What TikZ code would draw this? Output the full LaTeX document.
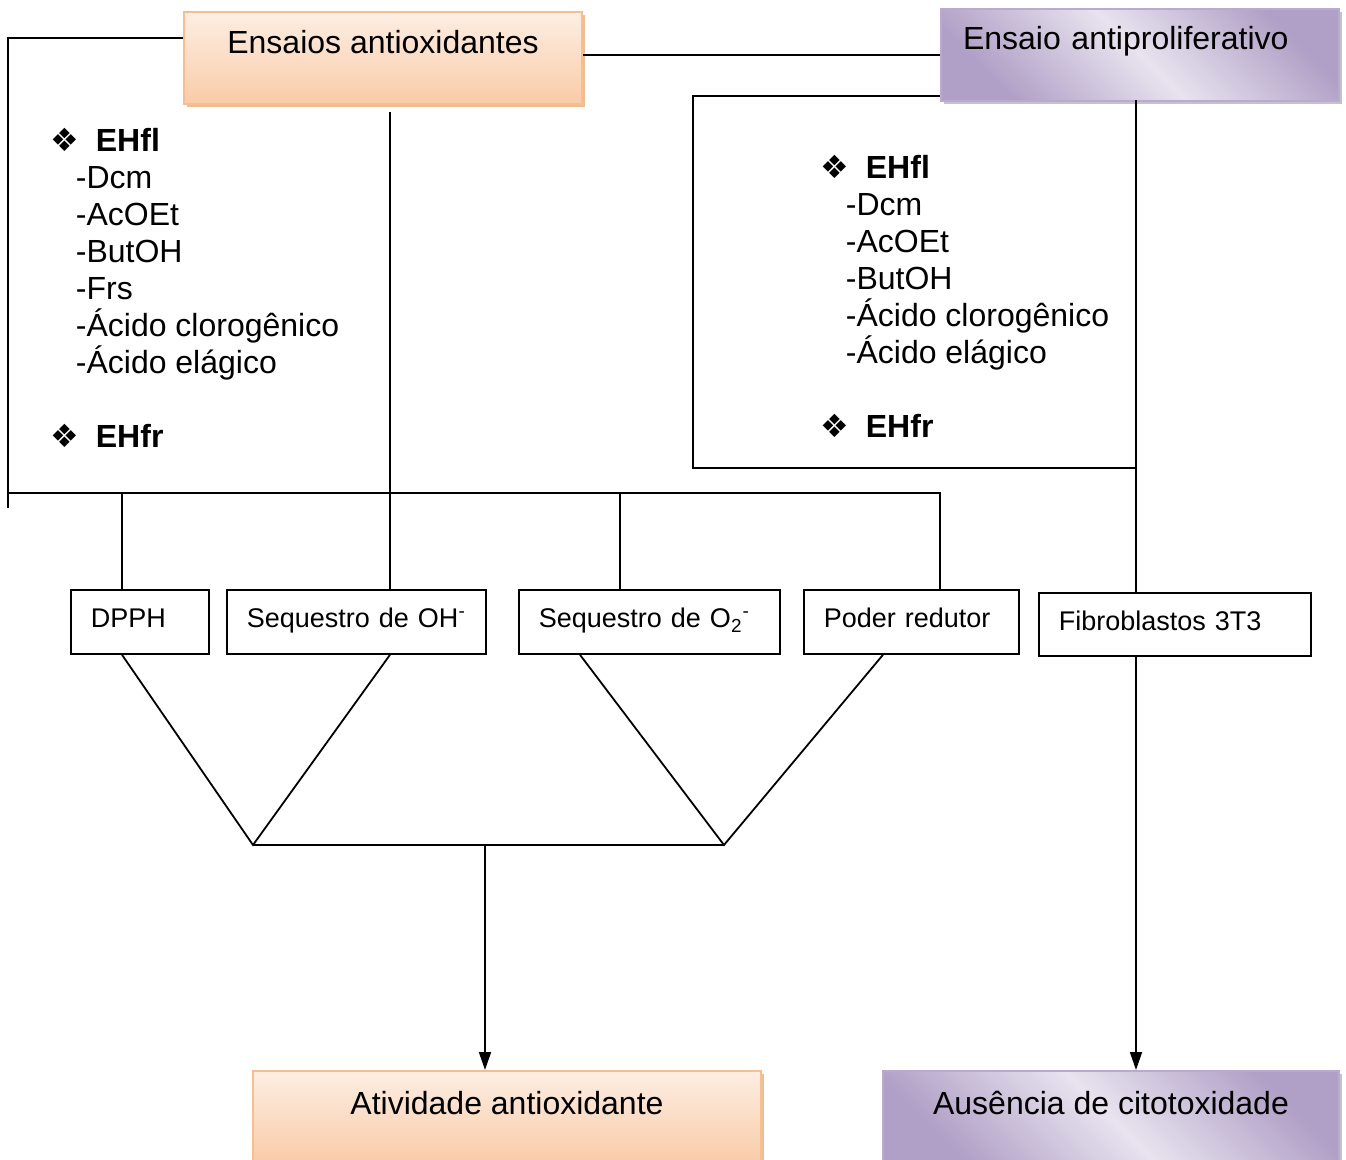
\documentclass[tikz,border=0pt]{standalone}
\usepackage{fontspec}
\setmainfont{Liberation Sans}
\newfontfamily\dejavu{DejaVu Sans}
\usetikzlibrary{arrows.meta,shadows}
\definecolor{peachline}{HTML}{F7BE92}
\definecolor{peachtop}{HTML}{FDEEE3}
\definecolor{peachbot}{HTML}{F9CBA8}
\definecolor{lilacline}{HTML}{B9AACF}
\definecolor{lilacdark}{HTML}{B09FC6}
\definecolor{lilaclight}{HTML}{E8E3EF}
\newcommand{\losango}{\smash{\dejavu\fontsize{16}{16}\selectfont ❖}}
\begin{document}
\begin{tikzpicture}[x=0.5pt, y=-0.5pt, line width=0.9pt,
  laranja/.style = {draw=peachline, line width=1pt, top color=peachtop, bottom color=peachbot, anchor=north west, font=\fontsize{16}{19}\selectfont, drop shadow={shadow xshift=1.5pt, shadow yshift=-1.5pt, fill=brown!60!orange, opacity=.5}},
  lilas/.style = {draw=lilacline, line width=1pt, top color=lilacdark, bottom color=lilacdark, middle color=lilaclight, shading angle=-45, anchor=north west, font=\fontsize{16}{19}\selectfont, drop shadow={shadow xshift=1.5pt, shadow yshift=-1.5pt, fill=lilacdark!70!gray, opacity=.6}},
  ensaio/.style = {draw, anchor=north west, inner xsep=10pt, minimum height=32pt, align=left, text height=10pt, text depth=4pt, font=\fontsize{13.5}{16}\selectfont},
  lista/.style = {anchor=north west, inner sep=0pt, align=left, font=\fontsize{16}{18.5}\selectfont},
  seta/.style = {-{Triangle[length=9pt,width=6pt]}}]
\useasboundingbox (0,0) rectangle (1346,1160);

% caixas do topo
\node[laranja, minimum width=199pt, minimum height=46pt, text height=12pt, text depth=16pt] (antiox) at (183,11) {Ensaios antioxidantes};
\node[lilas, minimum width=199pt, minimum height=46pt, text width=177pt, inner xsep=11pt, align=left, text height=12pt, text depth=17pt] (prolif) at (940,8) {Ensaio antiproliferativo};

% listas
\node[lista] (listaL) at (50,127) {\makebox[22.5pt][l]{\losango}\textbf{EHfl}\\
  \hspace*{12.5pt}-Dcm\\ \hspace*{12.5pt}-AcOEt\\ \hspace*{12.5pt}-ButOH\\ \hspace*{12.5pt}-Frs\\
  \hspace*{12.5pt}-Ácido clorogênico\\ \hspace*{12.5pt}-Ácido elágico\\[18.5pt]
  \makebox[22.5pt][l]{\losango}\textbf{EHfr}};
\node[lista] (listaR) at (820,154) {\makebox[22.5pt][l]{\losango}\textbf{EHfl}\\
  \hspace*{12.5pt}-Dcm\\ \hspace*{12.5pt}-AcOEt\\ \hspace*{12.5pt}-ButOH\\
  \hspace*{12.5pt}-Ácido clorogênico\\ \hspace*{12.5pt}-Ácido elágico\\[18.5pt]
  \makebox[22.5pt][l]{\losango}\textbf{EHfr}};

% ensaios
\node[ensaio, text width=49pt] (dpph) at (70,589) {DPPH};
\node[ensaio, text width=109.5pt] (oh) at (226,589) {Sequestro de OH\textsuperscript{-}};
\node[ensaio, text width=110.5pt] (otwo) at (518,589) {Sequestro de O\textsubscript{2}\textsuperscript{-}};
\node[ensaio, text width=87.5pt] (poder) at (803,589) {Poder redutor};
\node[ensaio, text width=116pt, minimum height=31.5pt] (fibro) at (1038,592) {Fibroblastos 3T3};

% resultados
\node[laranja, minimum width=254pt, minimum height=46pt, text height=12pt, text depth=15pt] (ativ) at (252,1070) {Atividade antioxidante};
\node[lilas, minimum width=228pt, minimum height=46pt, text height=12pt, text depth=15pt] (ausen) at (882,1070) {Ausência de citotoxidade};

\coordinate (cantoL) at (8,38);
\coordinate (fimL) at (8,508);
\coordinate (barraL) at (8,493);
\coordinate (barraR) at (940,493);
\coordinate (jDPPH) at (122,493);
\coordinate (jOtwo) at (620,493);
\coordinate (topoOH) at (390,112);
\coordinate (cantoR) at (693,96);
\coordinate (baseR) at (693,468);
\coordinate (fimR) at (1137,468);
\coordinate (topoF) at (1136,100);
\coordinate (xO) at (580,0);
\coordinate (xP) at (883,0);
\coordinate (vL) at (253,845);
\coordinate (vR) at (724,845);
\coordinate (vM) at (485,845);

\draw (antiox.west |- cantoL) -- (cantoL) -- (fimL);
\draw (barraL) -- (barraR) -- (barraR |- poder.north);
\draw (jDPPH) -- (jDPPH |- dpph.north);
\draw (jOtwo) -- (jOtwo |- otwo.north);
\draw (topoOH) -- (topoOH |- oh.north);
\draw (antiox.east |- prolif.west) -- (prolif.west);
\draw (prolif.west |- cantoR) -- (cantoR) -- (baseR) -- (fimR);
\draw (topoF) -- (topoF |- fibro.north);

\draw (dpph.south -| jDPPH) -- (vL) -- (oh.south -| topoOH);
\draw (otwo.south -| xO) -- (vR) -- (poder.south -| xP);
\draw (vL) -- (vR);
\draw[seta] (vM) -- (vM |- ativ.north);
\draw[seta] (topoF |- fibro.south) -- (topoF |- ausen.north);
\end{tikzpicture}
\end{document}
